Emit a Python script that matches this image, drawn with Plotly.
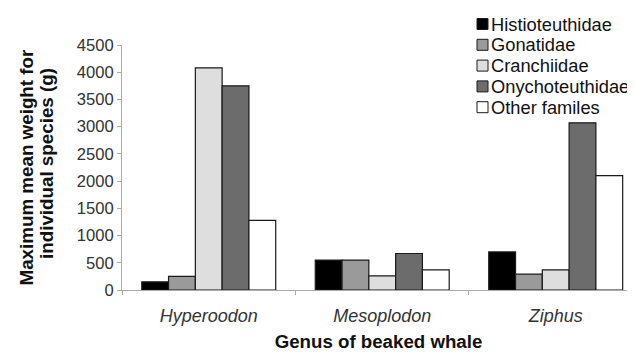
import plotly.graph_objects as go

genera = ["Hyperoodon", "Mesoplodon", "Ziphus"]
families = ["Histioteuthidae", "Gonatidae", "Cranchiidae", "Onychoteuthidae", "Other familes"]
histioteuthidae = [150, 550, 700]
gonatidae = [250, 550, 290]
cranchiidae = [4080, 260, 370]
onychoteuthidae = [3750, 670, 3070]
other_families = [1280, 370, 2100]
y_ticks = [0, 500, 1000, 1500, 2000, 2500, 3000, 3500, 4000, 4500]
y_title_lines = ["Maximum mean weight for", "individual species (g)"]

series = [histioteuthidae, gonatidae, cranchiidae, onychoteuthidae, other_families]
colors = ["#000000", "#9a9a9a", "#dedede", "#6c6c6c", "#ffffff"]

# page body has an 8px default margin; size the figure to fill the window
OFF = 8
W, H = 635 - OFF, 352 - OFF
ML, MR, MT, MB = 114, 0, 37, 62
PW, PH = W - ML - MR, H - MT - MB

fig = go.Figure()
for name, vals, col in zip(families, series, colors):
    fig.add_trace(go.Bar(
        x=[f"<i>{g}</i>" for g in genera], y=vals, name=name, showlegend=False,
        marker=dict(color=col, line=dict(color="#1a1a1a", width=1.2)),
    ))

# positions below are given in window pixels and converted to paper coords
def px_x(p):
    return (p - OFF - ML) / PW

def px_y(p):
    return (OFF + H - MB - p) / PH

shapes, annotations = [], []
# compact legend (squares + labels)
for i, (name, col) in enumerate(zip(families, colors)):
    cy = 24 + i * 20.8
    shapes.append(dict(type="rect", xref="paper", yref="paper",
                       x0=px_x(477), x1=px_x(488), y0=px_y(cy + 5.5), y1=px_y(cy - 5.5),
                       fillcolor=col, line=dict(color="#1a1a1a", width=1)))
    annotations.append(dict(text=name, xref="paper", yref="paper",
                            x=px_x(489), y=px_y(cy), xanchor="left", yanchor="middle",
                            showarrow=False, font=dict(size=18.3, color="#111111")))

# two-line rotated y-axis title with tight line spacing
for line, cx, cy in zip(y_title_lines, [26, 46], [167.5, 164]):
    annotations.append(dict(text=f"<b>{line}</b>", xref="paper", yref="paper",
                            x=px_x(cx), y=px_y(cy), xanchor="center", yanchor="middle",
                            textangle=-90, showarrow=False,
                            font=dict(size=18.8, color="#111111")))

font = "Liberation Sans, Arial, sans-serif"
fig.update_layout(
    width=W, height=H,
    margin=dict(l=ML, r=MR, t=MT, b=MB),
    barmode="group", bargap=0.228, bargroupgap=0,
    plot_bgcolor="white", paper_bgcolor="white",
    font=dict(family=font, size=17, color="#222222"),
    showlegend=False,
    shapes=shapes, annotations=annotations,
    xaxis=dict(
        range=[-0.5, 2.457], automargin=False,
        showline=True, linecolor="#aaaaaa", linewidth=1,
        ticks="outside", tickson="boundaries", ticklen=4, tickcolor="#aaaaaa",
        ticklabelstandoff=9,
        tickfont=dict(size=18, color="#333333"),
        title=dict(text="<b>Genus of beaked whale</b>", font=dict(size=18.7, color="#111111"), standoff=22),
    ),
    yaxis=dict(
        range=[0, 4500], tickvals=y_ticks, automargin=False,
        showline=True, linecolor="#aaaaaa", linewidth=1,
        ticks="outside", ticklen=4, tickcolor="#aaaaaa",
        showgrid=False, zeroline=False,
        tickfont=dict(size=16.6, color="#333333"),
    ),
)
fig.write_html("out.html")
